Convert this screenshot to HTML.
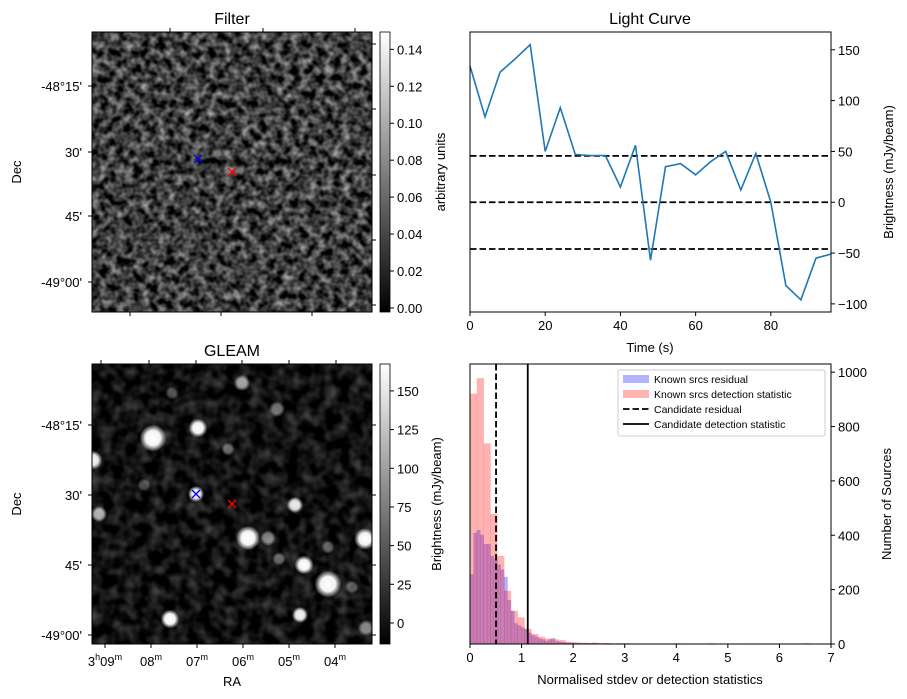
<!DOCTYPE html>
<html><head><meta charset="utf-8">
<style>
html,body{margin:0;padding:0;background:#fff;}
svg{display:block;font-family:"Liberation Sans","DejaVu Sans",sans-serif;}
text{fill:#000;}
</style></head>
<body>
<svg id="fig" width="907" height="699" viewBox="0 0 907 699" xmlns="http://www.w3.org/2000/svg">
<defs>
<filter id="noiseF" x="0" y="0" width="100%" height="100%" color-interpolation-filters="sRGB">
<feTurbulence type="fractalNoise" baseFrequency="0.12" numOctaves="2" seed="7"/>
<feColorMatrix type="matrix" values="1.1 0 0 0 -0.31  1.1 0 0 0 -0.31  1.1 0 0 0 -0.31  0 0 0 0 1"/>
</filter>
<filter id="noiseG" x="0" y="0" width="100%" height="100%" color-interpolation-filters="sRGB">
<feTurbulence type="fractalNoise" baseFrequency="0.08" numOctaves="2" seed="3"/>
<feColorMatrix type="matrix" values="0.5 0 0 0 -0.18  0.5 0 0 0 -0.18  0.5 0 0 0 -0.18  0 0 0 0 1"/>
</filter>
<linearGradient id="cbar" x1="0" y1="1" x2="0" y2="0">
<stop offset="0" stop-color="#000"/><stop offset="1" stop-color="#fff"/>
</linearGradient>
<radialGradient id="blob">
<stop offset="0" stop-color="#fff" stop-opacity="1"/>
<stop offset="0.55" stop-color="#fff" stop-opacity="0.95"/>
<stop offset="1" stop-color="#fff" stop-opacity="0"/>
</radialGradient>
<clipPath id="clipG"><rect x="92" y="364" width="280" height="280"/></clipPath>
</defs>

<g>
<text x="232" y="24" font-size="16" text-anchor="middle">Filter</text>
<rect x="92" y="32" width="280" height="280" fill="#3a3a3a"/>
<rect x="92" y="32" width="280" height="280" filter="url(#noiseF)"/>
<rect x="92" y="32" width="280" height="280" fill="none" stroke="#000" stroke-width="1"/>
<g stroke-width="1.3">
<path d="M194,155 l8,8 M202,155 l-8,8" stroke="#00f"/>
<path d="M228,168 l8,8 M236,168 l-8,8" stroke="#f00"/>
</g>
<g stroke="#000">
<line x1="92" x2="88" y1="86" y2="86"/><line x1="92" x2="88" y1="152" y2="152"/><line x1="92" x2="88" y1="216" y2="216"/><line x1="92" x2="88" y1="282" y2="282"/>
<line x1="372" x2="376" y1="44" y2="44"/><line x1="372" x2="376" y1="109" y2="109"/><line x1="372" x2="376" y1="175" y2="175"/><line x1="372" x2="376" y1="240" y2="240"/><line x1="372" x2="376" y1="305" y2="305"/>
<line x1="170" x2="170" y1="32" y2="28"/><line x1="263" x2="263" y1="32" y2="28"/><line x1="355" x2="355" y1="32" y2="28"/>
<line x1="130" x2="130" y1="312" y2="316"/><line x1="221" x2="221" y1="312" y2="316"/><line x1="312" x2="312" y1="312" y2="316"/>
</g>
<g font-size="13" text-anchor="end">
<text x="82" y="91">-48°15'</text><text x="82" y="157">30'</text><text x="82" y="221">45'</text><text x="82" y="287">-49°00'</text>
</g>
<text transform="translate(21,172) rotate(-90)" font-size="13" text-anchor="middle">Dec</text>
<rect x="380" y="32" width="10" height="280" fill="url(#cbar)" stroke="#000" stroke-width="0.8"/>
<g id="fcbTicks" font-size="13"></g>
<text transform="translate(445,172) rotate(-90)" font-size="13" text-anchor="middle">arbitrary units</text>
</g>

<g>
<text x="232" y="356" font-size="16" text-anchor="middle">GLEAM</text>
<rect x="92" y="364" width="280" height="280" fill="#101010"/>
<rect x="92" y="364" width="280" height="280" filter="url(#noiseG)"/>
<g id="blobs" clip-path="url(#clipG)"></g>
<rect x="92" y="364" width="280" height="280" fill="none" stroke="#000" stroke-width="1"/>
<g stroke-width="1.3">
<path d="M192,490 l8,8 M200,490 l-8,8" stroke="#00f"/>
<path d="M228,500 l8,8 M236,500 l-8,8" stroke="#f00"/>
</g>
<g stroke="#000">
<line x1="92" x2="88" y1="425" y2="425"/><line x1="92" x2="88" y1="495" y2="495"/><line x1="92" x2="88" y1="565" y2="565"/><line x1="92" x2="88" y1="635" y2="635"/>
<line x1="372" x2="376" y1="425" y2="425"/><line x1="372" x2="376" y1="495" y2="495"/><line x1="372" x2="376" y1="565" y2="565"/><line x1="372" x2="376" y1="635" y2="635"/>
<line x1="101" x2="101" y1="364" y2="360"/><line x1="149" x2="149" y1="364" y2="360"/><line x1="196" x2="196" y1="364" y2="360"/><line x1="242" x2="242" y1="364" y2="360"/><line x1="289" x2="289" y1="364" y2="360"/><line x1="336" x2="336" y1="364" y2="360"/>
<line x1="105" x2="105" y1="644" y2="648"/><line x1="151" x2="151" y1="644" y2="648"/><line x1="197" x2="197" y1="644" y2="648"/><line x1="243" x2="243" y1="644" y2="648"/><line x1="289" x2="289" y1="644" y2="648"/><line x1="335" x2="335" y1="644" y2="648"/>
</g>
<g font-size="13" text-anchor="end">
<text x="82" y="430">-48°15'</text><text x="82" y="500">30'</text><text x="82" y="570">45'</text><text x="82" y="640">-49°00'</text>
</g>
<g font-size="13" text-anchor="middle">
<text x="105" y="666">3<tspan font-size="9" dy="-6">h</tspan><tspan dy="6">09</tspan><tspan font-size="9" dy="-6">m</tspan></text>
<text x="151" y="666">08<tspan font-size="9" dy="-6">m</tspan></text>
<text x="197" y="666">07<tspan font-size="9" dy="-6">m</tspan></text>
<text x="243" y="666">06<tspan font-size="9" dy="-6">m</tspan></text>
<text x="289" y="666">05<tspan font-size="9" dy="-6">m</tspan></text>
<text x="335" y="666">04<tspan font-size="9" dy="-6">m</tspan></text>
</g>
<text x="232" y="686" font-size="13" text-anchor="middle">RA</text>
<text transform="translate(21,504) rotate(-90)" font-size="13" text-anchor="middle">Dec</text>
<rect x="380" y="364" width="10" height="280" fill="url(#cbar)" stroke="#000" stroke-width="0.8"/>
<g id="gcbTicks" font-size="13"></g>
<text transform="translate(441,504) rotate(-90)" font-size="13" text-anchor="middle">Brightness (mJy/beam)</text>
</g>

<g id="lc">
<text x="650" y="24" font-size="16" text-anchor="middle">Light Curve</text>
<text x="650" y="352" font-size="13" text-anchor="middle">Time (s)</text>
<text transform="translate(893,172) rotate(-90)" font-size="13" text-anchor="middle">Brightness (mJy/beam)</text>
</g>

<g id="hist">
<text x="650" y="684" font-size="13" text-anchor="middle">Normalised stdev or detection statistics</text>
<text transform="translate(891,504) rotate(-90)" font-size="13" text-anchor="middle">Number of Sources</text>
</g>
</svg>

<script>
var NS = "http://www.w3.org/2000/svg";
var lcTimes = [0,4,8,12,16,20,24,28,32,36,40,44,48,52,56,60,64,68,72,76,80,84,88,92,96];
var lcValues = [134,84,128,141,155,50,93,47,46,46,15,56,-57,35,38,27,40,50,12,48,0,-82,-96,-55,-51];
var lcThresholds = [45.6,0,-46];
var lcXTicks = [0,20,40,60,80];
var lcYTicks = [-100,-50,0,50,100,150];
var residualBinWidth = 0.066;
var residualCounts = [257,409,419,402,368,368,324,312,292,274,247,162,122,76,69,61,55,42,32,27,20,17,12,17,22,10,8,7,6,5,5,4,3,3,4,3,5,3,2,3,3,2,2,3,1,1,3,2,1,1];
var detectionBinWidth = 0.132;
var detectionCounts = [921,978,738,478,324,196,122,98,56,37,27,20,17,15,7,6,5,4,4,3,3,2,3,2,2,0,0,0,0,0,3,0,0,0,0,3,0,2,0,0,2,0,2,0,0,0,0,0,0,3];
var candidateResidual = 0.505;
var candidateDetection = 1.12;
var histXTicks = [0,1,2,3,4,5,6,7];
var histYTicks = [0,200,400,600,800,1000];
var filterCbTicks = [0.00,0.02,0.04,0.06,0.08,0.10,0.12,0.14];
var gleamCbTicks = [0,25,50,75,100,125,150];
var gleamSources = [[153,438,10,1],[198,428,7,1],[93,460,7,0.95],[99,514,6,0.7],[196,494,6,0.95],[242,383,6,0.6],[277,409,6,0.45],[228,449,5,0.4],[295,505,6,0.9],[248,538,9,1],[268,538,6,0.5],[365,539,8,1],[304,565,7,1],[328,584,10,1],[279,559,5,0.4],[328,547,5,0.35],[352,587,5,0.35],[300,615,6,0.95],[170,619,7,1],[366,628,6,0.5],[172,393,5,0.3],[144,485,5,0.3]];

function mk(tag, attrs, parent){ var e=document.createElementNS(NS,tag); for(var k in attrs) e.setAttribute(k,attrs[k]); parent.appendChild(e); return e; }

var bg = document.getElementById('blobs');
gleamSources.forEach(function(s){
  var c = mk('circle',{cx:s[0],cy:s[1],r:s[2]*1.35,fill:'url(#blob)',opacity:s[3]},bg);
  
  
});

function cbTicks(gid, ticks, vmin, vmax, y0, y1, fmt){
  var g=document.getElementById(gid);
  ticks.forEach(function(t){
    var y = y1 - (t-vmin)/(vmax-vmin)*(y1-y0);
    mk('line',{x1:390,x2:394,y1:y,y2:y,stroke:'#000'},g);
    var tx = mk('text',{x:397,y:y+5},g); tx.textContent=fmt(t);
    
    
  });
}
cbTicks('fcbTicks', filterCbTicks, -0.0022, 0.1494, 32, 312, function(t){return t.toFixed(2);});
cbTicks('gcbTicks', gleamCbTicks, -13.6, 167.4, 364, 644, function(t){return String(t);});

(function(){
  var g=document.getElementById('lc');
  var L=470,R=831,T=32,B=312, xmin=0,xmax=96, ymin=-108,ymax=167.5;
  function X(v){return L+(v-xmin)/(xmax-xmin)*(R-L);}
  function Y(v){return B-(v-ymin)/(ymax-ymin)*(B-T);}
  lcThresholds.forEach(function(v){
    var l=mk('line',{x1:L,x2:R,y1:Y(v),y2:Y(v),stroke:'#000','stroke-width':1.8,'stroke-dasharray':'6.5,3'},g);
    
    
  });
  var d=lcTimes.map(function(t,i){return (i?'L':'M')+X(t).toFixed(1)+','+Y(lcValues[i]).toFixed(1);}).join(' ');
  var p=mk('path',{d:d,fill:'none',stroke:'#1f77b4','stroke-width':1.6},g);
  
  
  mk('rect',{x:L,y:T,width:R-L,height:B-T,fill:'none',stroke:'#000','stroke-width':1},g);
  lcXTicks.forEach(function(t){
    mk('line',{x1:X(t),x2:X(t),y1:B,y2:B+4,stroke:'#000'},g);
    var tx=mk('text',{x:X(t),y:B+18,'font-size':13,'text-anchor':'middle'},g); tx.textContent=t;
    
    
  });
  lcYTicks.forEach(function(t){
    mk('line',{x1:R,x2:R+4,y1:Y(t),y2:Y(t),stroke:'#000'},g);
    var tx=mk('text',{x:R+7,y:Y(t)+5,'font-size':13},g); tx.textContent=(t<0?'\u2212'+(-t):t);
    
    
  });
})();

(function(){
  var g=document.getElementById('hist');
  var L=470,R=831,T=364,B=644, xmin=0,xmax=7, ymin=0,ymax=1030;
  function X(v){return L+(v-xmin)/(xmax-xmin)*(R-L);}
  function Y(v){return B-(v-ymin)/(ymax-ymin)*(B-T);}
  residualCounts.forEach(function(c,i){
    if(!c) return;
    var r=mk('rect',{x:X(i*residualBinWidth),y:Y(c),width:X((i+1)*residualBinWidth)-X(i*residualBinWidth)+0.3,height:B-Y(c),fill:'#0000ff','fill-opacity':0.3},g);
    
    
  });
  detectionCounts.forEach(function(c,i){
    if(!c) return;
    var r=mk('rect',{x:X(i*detectionBinWidth),y:Y(c),width:X((i+1)*detectionBinWidth)-X(i*detectionBinWidth)+0.3,height:B-Y(c),fill:'#ff0000','fill-opacity':0.3},g);
    
    
  });
  var l1=mk('line',{x1:X(candidateResidual),x2:X(candidateResidual),y1:T,y2:B,stroke:'#000','stroke-width':1.8,'stroke-dasharray':'6.5,3'},g);
  
  
  var l2=mk('line',{x1:X(candidateDetection),x2:X(candidateDetection),y1:T,y2:B,stroke:'#000','stroke-width':1.8},g);
  
  
  mk('rect',{x:L,y:T,width:R-L,height:B-T,fill:'none',stroke:'#000','stroke-width':1},g);
  histXTicks.forEach(function(t){
    mk('line',{x1:X(t),x2:X(t),y1:B,y2:B+4,stroke:'#000'},g);
    var tx=mk('text',{x:X(t),y:B+18,'font-size':13,'text-anchor':'middle'},g); tx.textContent=t;
    
    
  });
  histYTicks.forEach(function(t){
    mk('line',{x1:R,x2:R+4,y1:Y(t),y2:Y(t),stroke:'#000'},g);
    var tx=mk('text',{x:R+7,y:Y(t)+5,'font-size':13},g); tx.textContent=t;
    
    
  });
  var lg=mk('g',{},g);
  
  
  mk('rect',{x:618,y:370,width:207,height:66,rx:2,fill:'#fff','fill-opacity':0.8,stroke:'#ccc'},lg);
  var labels=['Known srcs residual','Known srcs detection statistic','Candidate residual','Candidate detection statistic'];
  labels.forEach(function(txt,i){
    var y=379+i*15;
    if(i===0) mk('rect',{x:623,y:y-4,width:26,height:8,fill:'#b3b3ff'},lg);
    if(i===1) mk('rect',{x:623,y:y-4,width:26,height:8,fill:'#ffb3b3'},lg);
    if(i===2) mk('line',{x1:623,x2:649,y1:y,y2:y,stroke:'#000','stroke-width':1.8,'stroke-dasharray':'6.5,3'},lg);
    if(i===3) mk('line',{x1:623,x2:649,y1:y,y2:y,stroke:'#000','stroke-width':1.8},lg);
    var t=mk('text',{x:654,y:y+4,'font-size':10.5},lg); t.textContent=txt;
    
    
  });
})();
</script>
</body></html>
